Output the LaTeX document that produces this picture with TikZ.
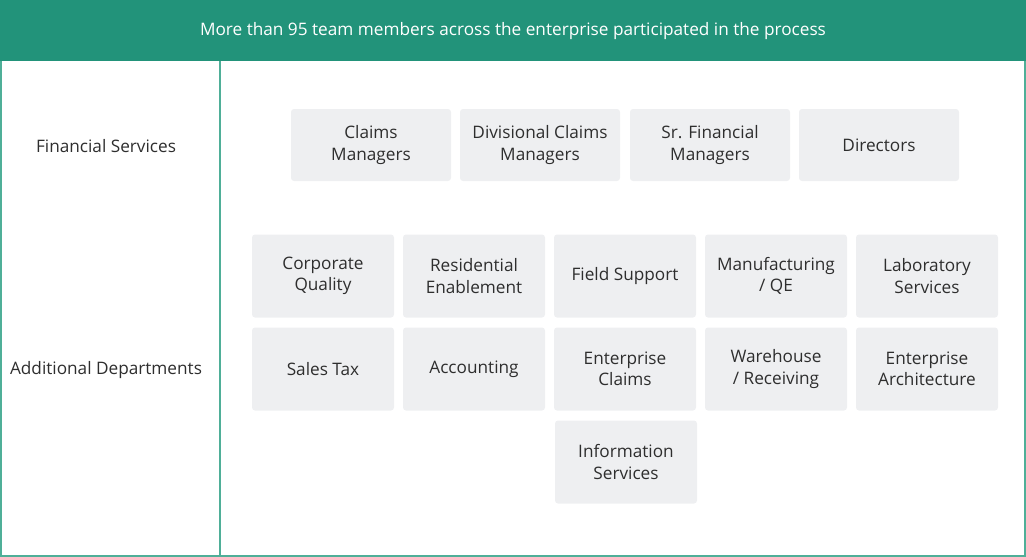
\documentclass[tikz,border=0pt]{standalone}
\usepackage{fontspec}
\setmainfont{Open Sans}
\definecolor{hdr}{HTML}{22937A}
\definecolor{brd}{HTML}{4FAF98}
\definecolor{boxfill}{HTML}{EEEFF1}
\definecolor{txt}{HTML}{2E2E2E}
\tikzset{
  cell/.style={fill=boxfill, rounded corners=3pt, minimum width=142pt, minimum height=83pt, inner sep=0pt, align=center, text=txt, font=\fontsize{17.2}{21.5}\selectfont},
  fcell/.style={cell, minimum width=160pt, minimum height=72pt},
  lbl/.style={text=txt, font=\fontsize{17.2}{21.5}\selectfont, inner sep=0pt},
}
\begin{document}
\begin{tikzpicture}[x=1pt,y=-1pt]
\useasboundingbox (0,0) rectangle (1026,557);
\fill[hdr] (0,0) rectangle (1026,61);
\draw[brd, line width=2pt] (1,61) -- (1,556) -- (1025,556) -- (1025,61);
\draw[brd, line width=2pt] (220,61) -- (220,556);
\node[text=white, font=\fontsize{17.2}{21.5}\selectfont, inner sep=0pt] (title) at (513,31.5) {More than 95 team members across the enterprise participated in the process};
\node[lbl] (fs) at (106,146) {Financial Services};
\node[lbl] (ad) at (106,370) {Additional Departments};
% financial row
\node[fcell] (cm) at (371,145) {\rule{0pt}{3pt}Claims\\Managers};
\node[fcell] (dcm) at (540,145) {\rule{0pt}{3pt}Divisional Claims\\Managers};
\node[fcell] (sfm) at (710,145) {\rule{0pt}{3pt}Sr. Financial\\Managers};
\node[fcell, text depth=0pt] (dir) at (879,145) {\raisebox{-1pt}{Directors}};
% additional rows
\node[cell] (cq) at (323,276) {Corporate\\Quality};
\node[cell] (re) at (474,276) {Residential\\Enablement};
\node[cell] (fsup) at (625,276) {\raisebox{-1pt}{Field Support}};
\node[cell] (mq) at (776,276) {Manufacturing\\/ QE};
\node[cell] (ls) at (927,276) {Laboratory\\Services};
\node[cell] (st) at (323,369) {\raisebox{-1pt}{Sales Tax}};
\node[cell] (acc) at (474,369) {\raisebox{-1pt}{Accounting}};
\node[cell] (ec) at (625,369) {Enterprise\\Claims};
\node[cell] (wr) at (776,369) {Warehouse\\/ Receiving};
\node[cell] (ea) at (927,369) {Enterprise\\Architecture};
\node[cell] (is) at (626,462) {Information\\Services};
\end{tikzpicture}
\end{document}
